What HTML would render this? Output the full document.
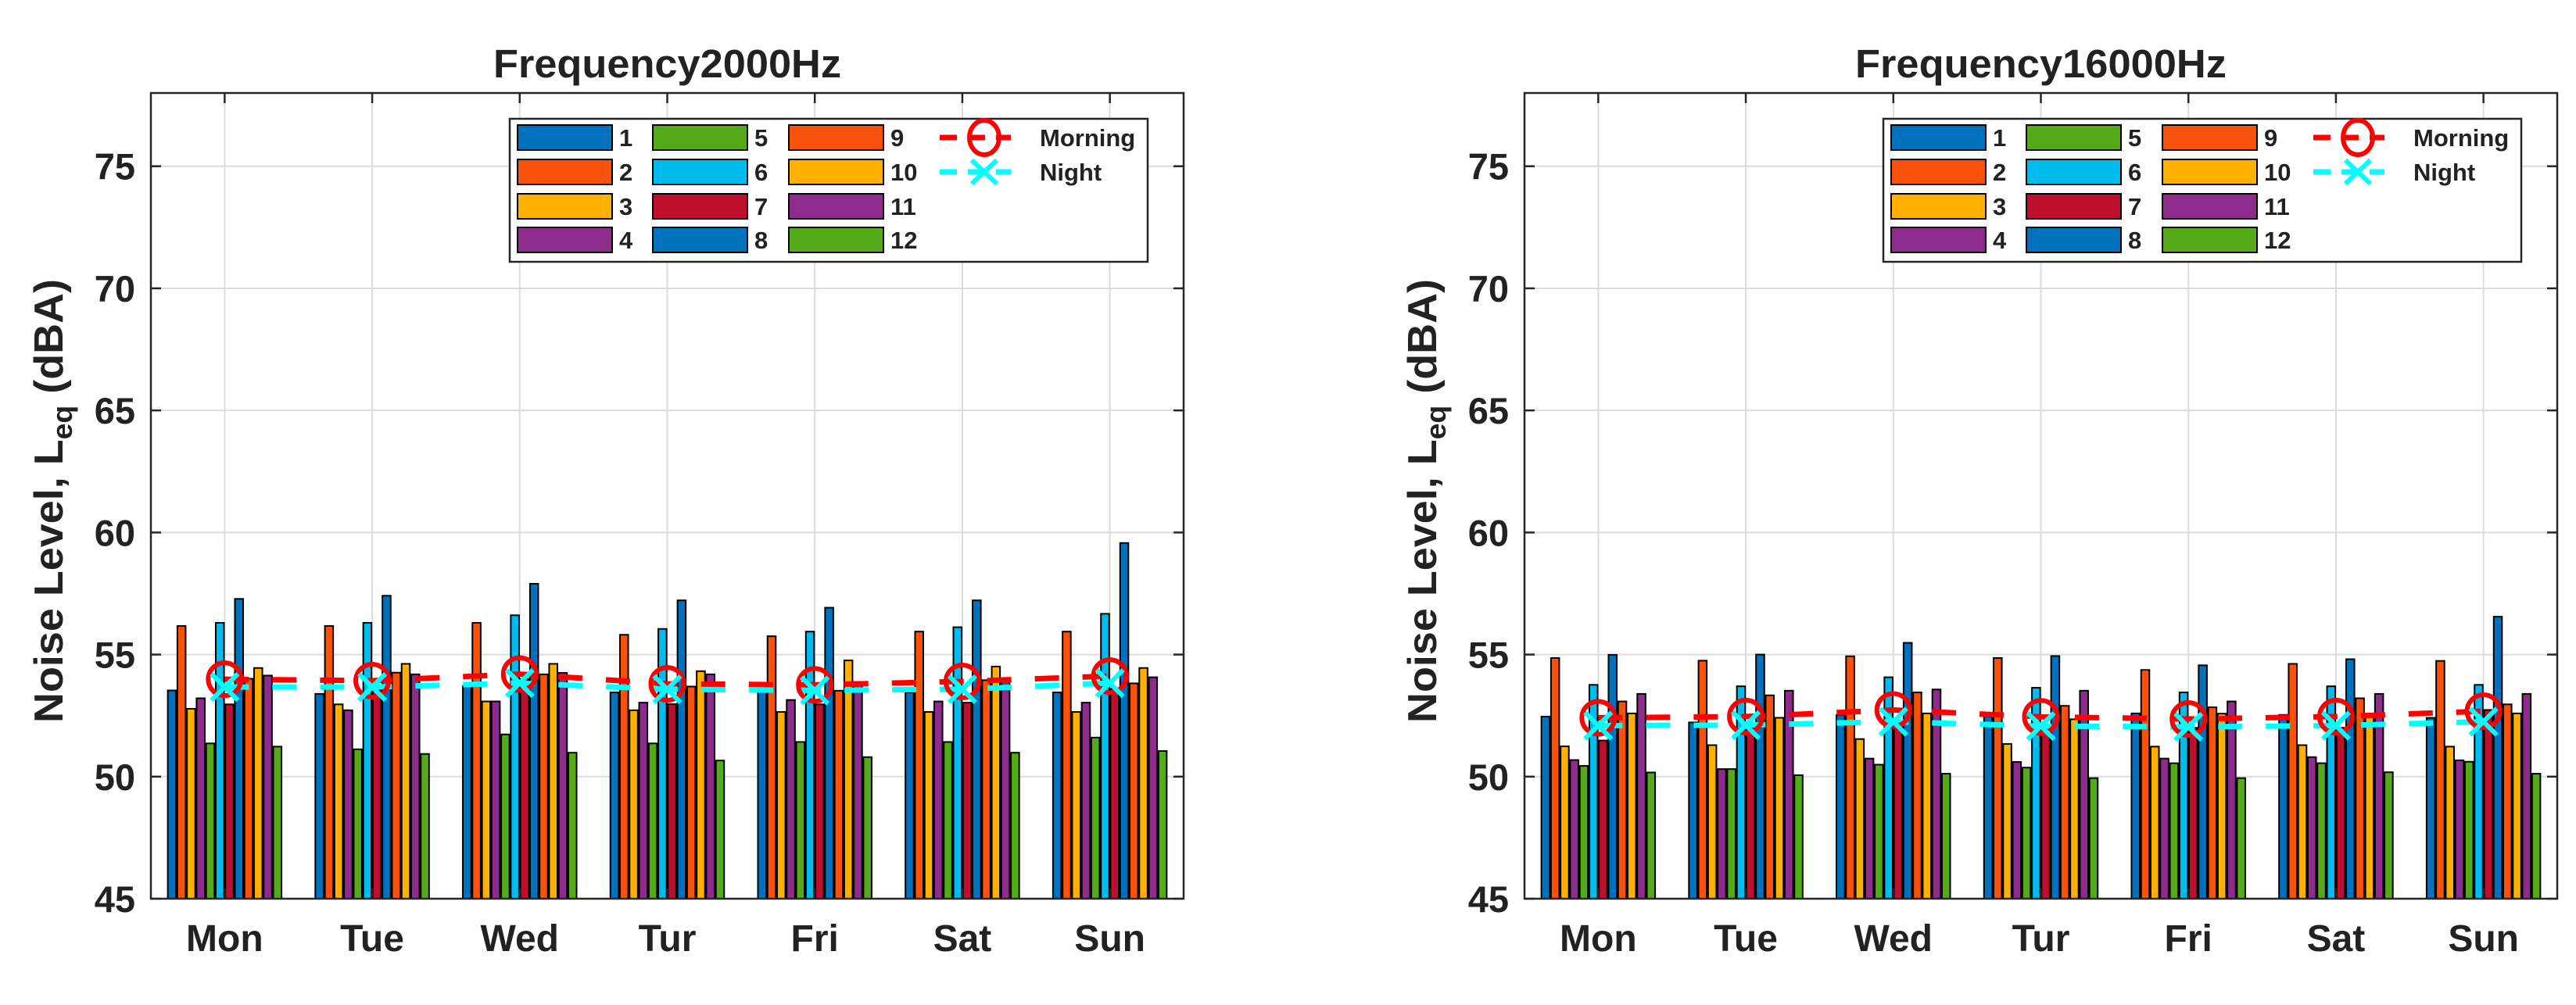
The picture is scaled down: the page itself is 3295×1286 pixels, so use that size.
<!DOCTYPE html>
<html>
<head>
<meta charset="utf-8">
<style>
html,body{margin:0;padding:0;background:#fff;}
svg{display:block;}
text{font-family:"Liberation Sans",Arial,sans-serif;font-weight:bold;fill:#222;}
</style>
</head>
<body>
<svg id="fig" width="3295" height="1286" viewBox="0 0 3295 1286" xmlns="http://www.w3.org/2000/svg">
<rect width="3295" height="1286" fill="#fff"/>
</svg>
<script>
const days = ["Mon","Tue","Wed","Tur","Fri","Sat","Sun"];
const seriesNames = ["1","2","3","4","5","6","7","8","9","10","11","12"];
const yTicks = [45,50,55,60,65,70,75];
const titles = ["Frequency2000Hz","Frequency16000Hz"];
// 2000 Hz: bars per day (series 1..12)
const f2000Mon = [53.53,56.17,52.78,53.21,51.36,56.30,52.96,57.28,54.01,54.45,54.14,51.23];
const f2000Tue = [53.39,56.17,52.96,52.72,51.12,56.30,53.60,57.41,54.26,54.62,54.19,50.93];
const f2000Wed = [53.71,56.30,53.08,53.08,51.73,56.61,54.00,57.90,54.19,54.62,54.25,50.98];
const f2000Tur = [53.45,55.81,52.72,53.03,51.36,56.05,52.97,57.22,53.69,54.32,54.19,50.66];
const f2000Fri = [53.58,55.75,52.65,53.14,51.42,55.94,52.96,56.92,53.52,54.76,53.88,50.80];
const f2000Sat = [53.45,55.94,52.65,53.08,51.42,56.12,53.03,57.22,53.95,54.51,54.01,50.98];
const f2000Sun = [53.45,55.94,52.65,53.03,51.60,56.67,53.60,59.57,53.82,54.45,54.07,51.05];
const f2000Morning = [53.99,53.93,54.20,53.80,53.76,53.90,54.12];
const f2000Night = [53.67,53.67,53.83,53.58,53.53,53.58,53.83];
// 16000 Hz
const f16000Mon = [52.46,54.86,51.24,50.68,50.44,53.76,51.48,54.99,53.08,52.59,53.39,50.17];
const f16000Tue = [52.22,54.75,51.29,50.31,50.31,53.70,52.00,55.00,53.33,52.41,53.52,50.06];
const f16000Wed = [52.52,54.93,51.54,50.74,50.49,54.07,52.20,55.48,53.45,52.59,53.57,50.12];
const f16000Tur = [52.46,54.86,51.34,50.60,50.37,53.64,52.00,54.94,52.90,52.35,53.52,49.94];
const f16000Fri = [52.59,54.37,51.23,50.74,50.55,53.45,52.00,54.56,52.84,52.58,53.08,49.94];
const f16000Sat = [52.53,54.62,51.29,50.80,50.55,53.70,52.00,54.81,53.21,52.53,53.39,50.18];
const f16000Sun = [52.41,54.74,51.23,50.67,50.61,53.76,52.73,56.55,52.96,52.59,53.39,50.12];
const f16000Morning = [52.41,52.46,52.73,52.45,52.36,52.46,52.68];
const f16000Night = [52.09,52.11,52.25,52.07,52.04,52.09,52.25];

const colors = ["#0072BD","#FA520A","#FFB000","#8E2C8E","#55AA1A","#00BBEE","#BE0F2E","#0072BD","#FA520A","#FFB000","#8E2C8E","#55AA1A"];
const NS = "http://www.w3.org/2000/svg";
const svg = document.getElementById("fig");
function mk(tag, attrs, parent){
  const e = document.createElementNS(NS, tag);
  for (const k in attrs) e.setAttribute(k, attrs[k]);
  (parent||svg).appendChild(e);
  return e;
}

function drawPanel(ox, title, barData, morning, night, pname){
  const g = mk("g", {});
  
  
  const L = 193 + ox, R = 1514 + ox, T = 119, B = 1150;
  const yMin = 45, yMax = 78;
  const y = v => B - (v - yMin) / (yMax - yMin) * (B - T);
  const sp = (R - L) / 7;
  const x = i => L + (i + 0.5) * sp;
  yTicks.forEach(t => {
    const gl = mk("line", {x1:L, x2:R, y1:y(t), y2:y(t), stroke:"#dcdcdc", "stroke-width":2}, g);
    
    
  });
  days.forEach((d, i) => {
    const gl = mk("line", {x1:x(i), x2:x(i), y1:T, y2:B, stroke:"#dcdcdc", "stroke-width":2}, g);
    
    
  });
  const groupW = 0.78 * sp, slot = groupW / 12, bw = slot * 0.86;
  barData.forEach((vals, i) => {
    vals.forEach((v, j) => {
      const cx = x(i) + (j - 5.5) * slot;
      const r = mk("rect", {x:cx - bw/2, y:y(v), width:bw, height:B - y(v), fill:colors[j], stroke:"#000", "stroke-width":2}, g);
      
      
    });
  });
  const mPts = morning.map((v, i) => x(i) + "," + y(v)).join(" ");
  const nPts = night.map((v, i) => x(i) + "," + y(v)).join(" ");
  const ml = mk("polyline", {points:mPts, fill:"none", stroke:"#FF0000", "stroke-width":7, "stroke-dasharray":"31 30"}, g);
  
  
  const nl = mk("polyline", {points:nPts, fill:"none", stroke:"#00FFFF", "stroke-width":7, "stroke-dasharray":"31 30"}, g);
  
  
  morning.forEach((v, i) => {
    const c = mk("circle", {cx:x(i), cy:y(v), r:21, fill:"none", stroke:"#FF0000", "stroke-width":6}, g);
    
    
  });
  night.forEach((v, i) => {
    const cx = x(i), cy = y(v), s = 17;
    const p = mk("path", {d:`M${cx-s},${cy-s}L${cx+s},${cy+s}M${cx-s},${cy+s}L${cx+s},${cy-s}`, stroke:"#00FFFF", "stroke-width":6, fill:"none"}, g);
    
    
  });
  const box = mk("rect", {x:L, y:T, width:R-L, height:B-T, fill:"none", stroke:"#262626", "stroke-width":2.5}, g);
  
  
  yTicks.forEach(t => {
    mk("line", {x1:L, x2:L+13, y1:y(t), y2:y(t), stroke:"#262626", "stroke-width":2.5}, g);
    mk("line", {x1:R-13, x2:R, y1:y(t), y2:y(t), stroke:"#262626", "stroke-width":2.5}, g);
    const tl = mk("text", {x:L-20, y:y(t)+17, "font-size":47, "text-anchor":"end"}, g);
    tl.textContent = t;
    
    
  });
  days.forEach((d, i) => {
    mk("line", {x1:x(i), x2:x(i), y1:T, y2:T+13, stroke:"#262626", "stroke-width":2.5}, g);
    mk("line", {x1:x(i), x2:x(i), y1:B-13, y2:B, stroke:"#262626", "stroke-width":2.5}, g);
    const tl = mk("text", {x:x(i), y:1217, "font-size":48, "text-anchor":"middle"}, g);
    tl.textContent = d;
    
    
  });
  const tt = mk("text", {x:(L+R)/2, y:99, "font-size":51, "text-anchor":"middle", fill:"#000", textLength:(title.length>15?475:445), lengthAdjust:"spacingAndGlyphs"}, g);
  tt.textContent = title;
  
  
  const yl = mk("text", {transform:`translate(${80+ox},641) rotate(-90)`, "font-size":52, "text-anchor":"middle", textLength:568, lengthAdjust:"spacingAndGlyphs"}, g);
  
  
  const s1 = document.createElementNS(NS, "tspan"); s1.textContent = "Noise Level, L"; yl.appendChild(s1);
  const s2 = document.createElementNS(NS, "tspan"); s2.setAttribute("dy", "12"); s2.setAttribute("font-size", "36"); s2.textContent = "eq"; yl.appendChild(s2);
  const s3 = document.createElementNS(NS, "tspan"); s3.setAttribute("dy", "-12"); s3.textContent = " (dBA)"; yl.appendChild(s3);
  const lg = mk("g", {}, g);
  
  
  mk("rect", {x:652+ox, y:152, width:816, height:183, fill:"#fff", stroke:"#262626", "stroke-width":2.5}, lg);
  const colX = [662, 835, 1009], rowY = [176, 220, 264, 307], labX = [792, 965, 1139];
  seriesNames.forEach((n, j) => {
    const c = Math.floor(j / 4), r = j % 4;
    const sw = mk("rect", {x:colX[c]+ox, y:rowY[r]-16, width:121, height:32, fill:colors[j], stroke:"#000", "stroke-width":2}, lg);
    
    
    const lt = mk("text", {x:labX[c]+ox, y:rowY[r]+11, "font-size":31, fill:"#000"}, lg);
    lt.textContent = n;
    
    
  });
  mk("line", {x1:1202+ox, x2:1293+ox, y1:rowY[0], y2:rowY[0], stroke:"#FF0000", "stroke-width":7, "stroke-dasharray":"22 14"}, lg);
  mk("ellipse", {cx:1259+ox, cy:rowY[0], rx:19, ry:22, fill:"none", stroke:"#FF0000", "stroke-width":6}, lg);
  const mt = mk("text", {x:1330+ox, y:rowY[0]+11, "font-size":31, fill:"#000"}, lg);
  mt.textContent = "Morning";
  
  
  mk("line", {x1:1202+ox, x2:1293+ox, y1:rowY[1], y2:rowY[1], stroke:"#00FFFF", "stroke-width":7, "stroke-dasharray":"22 14"}, lg);
  mk("path", {d:`M${1243+ox},${rowY[1]-15}L${1275+ox},${rowY[1]+15}M${1243+ox},${rowY[1]+15}L${1275+ox},${rowY[1]-15}`, stroke:"#00FFFF", "stroke-width":6}, lg);
  const nt = mk("text", {x:1330+ox, y:rowY[1]+11, "font-size":31, fill:"#000"}, lg);
  nt.textContent = "Night";
  
  
}

drawPanel(0, titles[0], [f2000Mon,f2000Tue,f2000Wed,f2000Tur,f2000Fri,f2000Sat,f2000Sun], f2000Morning, f2000Night, "panel-2000hz");
drawPanel(1757, titles[1], [f16000Mon,f16000Tue,f16000Wed,f16000Tur,f16000Fri,f16000Sat,f16000Sun], f16000Morning, f16000Night, "panel-16000hz");
</script>
</body>
</html>
